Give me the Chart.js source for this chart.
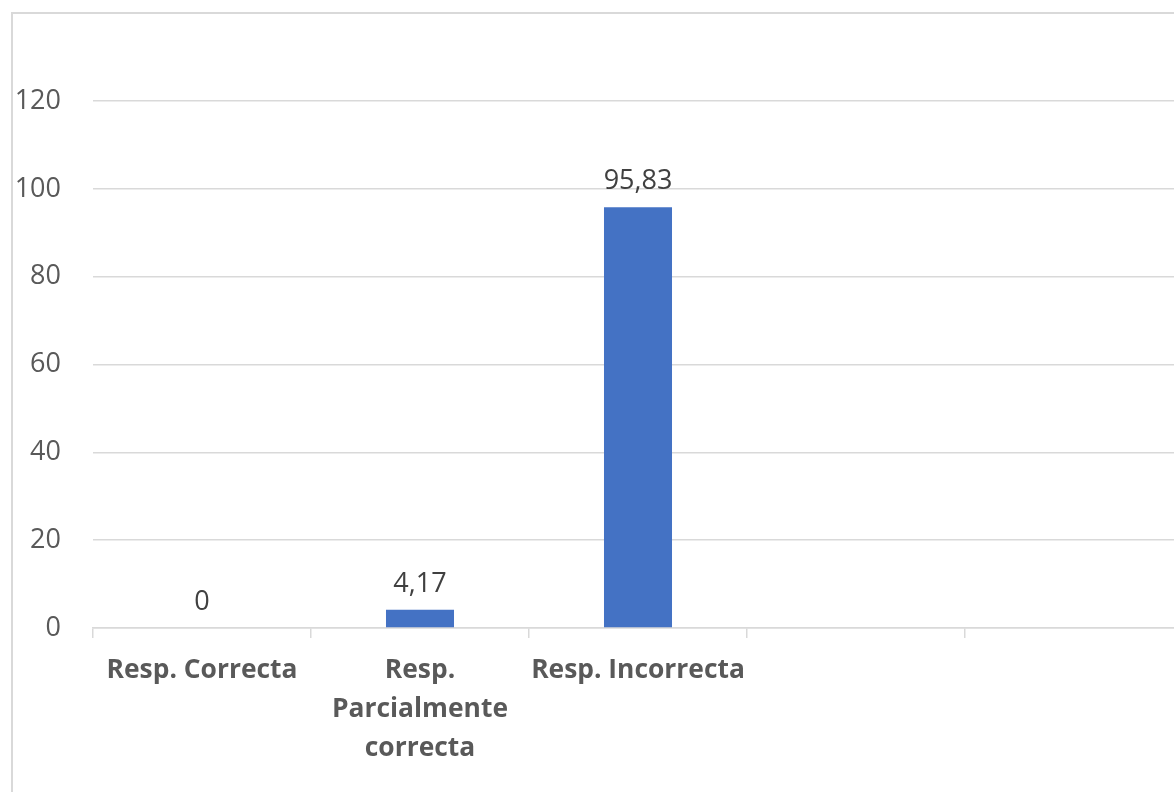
<!DOCTYPE html>
<html>
<head>
<meta charset="utf-8">
<script src="https://cdn.jsdelivr.net/npm/chart.js@4/dist/chart.umd.min.js"></script>
<style>
  html, body { margin: 0; padding: 0; background: #fff; overflow: hidden; }
  #frame {
    position: absolute; left: 11px; top: 12px; width: 1300px; height: 900px;
    border-left: 2px solid #d9d9d9; border-top: 2px solid #d9d9d9;
  }
  #wrap { position: absolute; left: 0; top: 0; width: 1183px; height: 800px; }
</style>
</head>
<body>
<div id="frame"></div>
<div id="wrap"><canvas id="chart"></canvas></div>
<script>
// Datos del gráfico
const categorias = ['Resp. Correcta', ['Resp.', 'Parcialmente', 'correcta'], 'Resp. Incorrecta', '', ''];
const porcentajes = [0, 4.17, 95.83, null, null];
const ticksY = [0, 20, 40, 60, 80, 100, 120];

const gris = '#d9d9d9';
const fuente = "'Open Sans', sans-serif";

// Etiquetas de datos encima de cada barra
const etiquetasBarras = {
    id: 'etiquetasBarras',
    afterDatasetsDraw(chart) {
        const ctx = chart.ctx;
        const meta = chart.getDatasetMeta(0);
        ctx.save();
        ctx.font = '27px ' + fuente;
        ctx.fillStyle = '#404040';
        ctx.textAlign = 'center';
        ctx.textBaseline = 'alphabetic';
        meta.data.forEach((bar, i) => {
            const v = porcentajes[i];
            if (v === null) return;
            ctx.fillText(String(v).replace('.', ','), bar.x, bar.y - 18);
        });
        ctx.restore();
    }
};

const ctx = document.getElementById('chart').getContext('2d');
new Chart(ctx, {
    type: 'bar',
    data: {
        labels: categorias,
        datasets: [{
            data: porcentajes,
            backgroundColor: '#4472c4',
            borderWidth: 0,
            barPercentage: 0.312,
            categoryPercentage: 1
        }]
    },
    options: {
        responsive: true,
        maintainAspectRatio: false,
        animation: false,
        layout: { padding: { top: 101, left: 0, right: 0, bottom: 0 } },
        plugins: {
            legend: { display: false },
            tooltip: { enabled: false }
        },
        scales: {
            x: {
                offset: true,
                grid: {
                    offset: true,
                    drawOnChartArea: false,
                    tickLength: 10,
                    color: gris,
                    lineWidth: 1.5
                },
                border: { color: gris, width: 1.5 },
                ticks: {
                    color: '#595959',
                    padding: 13,
                    maxRotation: 0,
                    autoSkip: false,
                    font: { family: fuente, size: 26.4, weight: 'bold', lineHeight: 1.48 }
                },
                afterFit(scale) { scale.height = 172; }
            },
            y: {
                min: 0,
                max: 120,
                afterBuildTicks(scale) { scale.ticks = ticksY.map(v => ({ value: v })); },
                grid: { color: gris, lineWidth: 1.5, drawTicks: false },
                border: { display: false },
                ticks: {
                    color: '#595959',
                    padding: 32,
                    font: { family: fuente, size: 27 }
                },
                afterFit(scale) { scale.width = 93; }
            }
        }
    },
    plugins: [etiquetasBarras]
});
</script>
</body>
</html>
